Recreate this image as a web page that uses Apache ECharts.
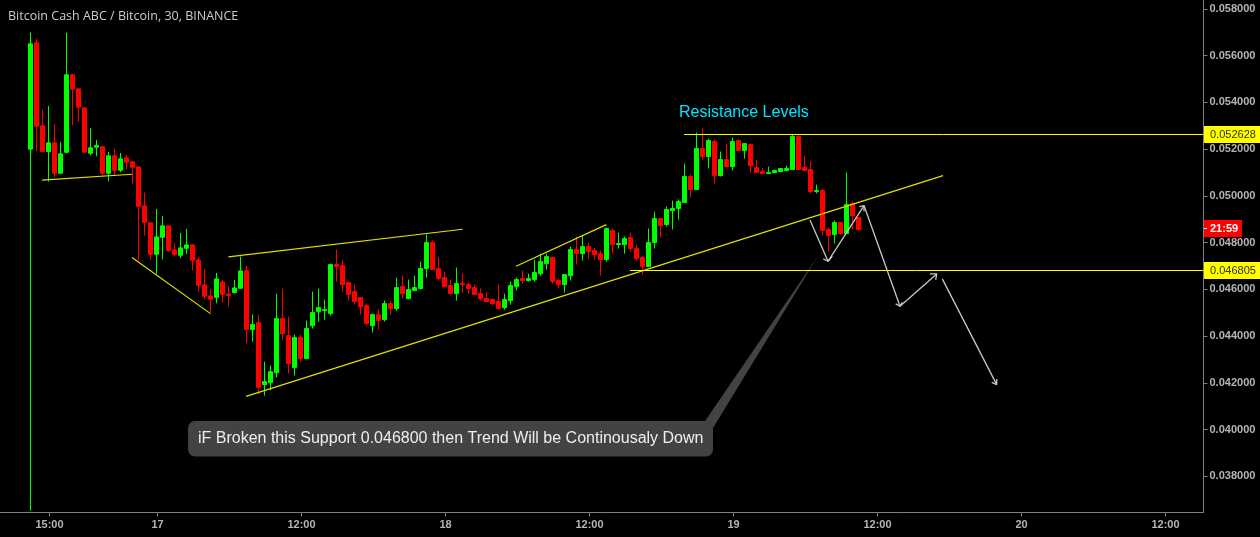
<!DOCTYPE html>
<html>
<head>
<meta charset="utf-8">
<style>html,body{margin:0;padding:0;background:#000}#c{width:1260px;height:537px}</style>
<script src="https://cdn.jsdelivr.net/npm/echarts@6/dist/echarts.min.js"></script>
</head>
<body>
<div id="c"></div>
<script>
// Prices are read in millionths of a BTC.
const opens = [52017,56554,53015,51919,52290,50994,51889,55189,54592,53782,51846,52102,52119,50994,51735,51121,51650,51480,51266,49603,48879,47540,48265,48751,47727,47497,47795,47940,47301,46235,45766,45706,46363,45851,45907,46090,46845,44329,44627,41984,42069,42495,44798,44073,42709,43988,43092,44499,45096,45139,45011,47100,47058,46333,45949,45693,45352,44499,44968,44755,45438,45224,46162,45651,45992,46077,46930,48039,46930,46546,46205,45864,46290,46248,46120,45864,45651,45608,45523,45267,45565,46162,46504,46418,46461,46717,47143,47399,46418,46248,46631,47740,47570,47868,47697,47570,47314,48550,47953,47953,48252,47783,47399,47015,48039,49062,48806,49403,49488,49744,50853,50298,52047,51706,52345,50895,51578,51279,52388,51961,52217,51237,51066,50981,51023,51066,51109,51151,52558,51237,51151,50213,50256,48593,48380,48891,48422,49701,49105];
const closes = [56511,52998,51919,52290,50994,51821,55189,54575,53808,51889,52077,52175,50994,51735,51121,51608,51463,51249,49586,48904,47540,48282,48751,47697,47540,47813,47940,47284,46218,45749,45621,46491,45834,45779,46107,46832,44329,44542,41869,42112,42538,44798,44158,42879,43988,43092,44372,45054,45267,45182,47100,47015,46248,45821,45523,45310,44585,44968,44713,45438,45224,46120,45864,46034,46120,46930,48039,46887,46504,46162,45864,46290,46248,46077,45821,45651,45523,45438,45224,45608,46205,46461,46418,46504,46759,47228,47442,46376,46248,46674,47740,47570,47868,47655,47527,47314,48636,47953,47996,48209,47783,47356,47015,48039,49062,48763,49446,49488,49787,50853,50298,52047,51706,52388,50895,51578,51279,52345,51961,52260,51322,51023,50981,51023,51109,51194,51194,52558,51151,51109,50213,50256,48550,48337,48891,48422,49659,49190,48593];
const lows = [36611,51932,51919,50640,50823,50994,51846,53040,53198,51889,51761,51718,50895,50652,50895,51036,51164,50567,47271,48337,47301,46704,47326,47642,47454,47369,47557,46857,45949,45621,45067,45450,45493,45322,45864,46077,43745,43817,41587,41515,41728,42282,43860,42453,42367,42964,43092,44372,44670,44755,44926,46376,45949,45565,45395,44968,44499,44201,44329,44670,44968,45139,45651,45651,45992,46034,46546,46887,46418,46162,45821,45565,45907,45864,45821,45565,45523,45352,45182,45182,45395,45992,46290,46376,46376,46631,46887,46290,46077,45907,46418,47100,47271,47356,47314,46631,47228,47570,47783,47570,47655,47271,46674,47015,47783,48252,48721,48593,49019,49744,49957,50298,51578,51194,50554,50853,51237,51109,51961,51620,51023,51023,50981,50981,51023,51066,51109,51151,51151,51109,50128,50128,48337,47655,47996,48380,48422,48593,48550];
const highs = [56993,56724,53697,53867,53100,52332,56980,55232,54592,53782,52929,52418,52162,51906,52034,51863,51778,51522,51266,50171,48879,49476,49177,48751,48026,48452,48623,47983,47429,46917,46064,46747,46448,46162,46448,47442,47045,44968,44968,42964,42794,45864,46077,44883,44116,44116,44713,45949,46077,45608,47143,47740,47314,46376,46248,45693,45438,45011,45182,45565,45523,46546,46631,46461,46631,47228,48380,48124,47399,46802,46461,46973,46717,46333,46248,46077,45907,45651,46248,45864,46376,46546,46845,46717,47314,47570,47570,47442,46504,46674,47868,48294,48337,48039,47825,47697,48678,48636,48465,48294,48465,47953,47484,48636,49360,49062,49574,49829,49872,51407,50938,52729,52900,52473,52430,51919,52260,52516,52430,52260,52260,51578,51237,51279,51151,51194,51322,52644,52601,51748,51492,50512,50341,48678,48977,48891,51023,49787,49105];

// One unit on the time axis is one 30-minute bar; bar 0 is the first candle.
const xTickBars = [3.167,21.167,45.167,69.167,93.167,117.167,141.167,165.167,189.167];
const xTickLabels = ['15:00','17','12:00','18','12:00','19','12:00','20','12:00'];
const yTicks = [0.038,0.04,0.042,0.044,0.046,0.048,0.05,0.052,0.054,0.056,0.058];

const trendLines = [
  [[1.917,0.050677],[16.917,0.050925]],
  [[16.917,0.047358],[30.0,0.04496]],
  [[32.967,0.047388],[72.033,0.04857]],
  [[35.917,0.041419],[152.083,0.050869]],
  [[80.917,0.046985],[95.967,0.048771]]
];
const levelLines = [
  [[108.917,0.052628],[195.5,0.052628]],
  [[99.917,0.046805],[195.5,0.046805]]
];
const arrowLines = [
  [[129.917,0.048972],[132.917,0.0472]],
  [[132.133,0.047302],[132.917,0.0472],[133.633,0.047414]],
  [[132.917,0.0472],[138.917,0.049585]],
  [[138.133,0.049542],[138.917,0.049585],[138.917,0.049341]],
  [[138.917,0.049585],[144.917,0.045273]],
  [[144.2,0.045375],[144.917,0.045273],[145.3,0.045444]],
  [[144.917,0.045273],[151.033,0.04666]],
  [[149.917,0.04666],[151.033,0.04666],[150.867,0.046403]],
  [[151.967,0.046446],[161.033,0.04192]],
  [[160.2,0.042018],[161.033,0.04192],[161.033,0.042164]]
];
const titleText = 'Bitcoin Cash ABC / Bitcoin, 30, BINANCE';
const resistanceText = 'Resistance Levels';
const calloutText = 'iF Broken this Support 0.046800 then Trend Will be Continousaly Down';
const levelLabels = ['0.052628','0.046805'];
const countdownText = '21:59';

const unit = 1e-6;
// Small correction between the pixel ruler used when reading and the axis.
const toPrice = v => v * unit * 1.00422 - 0.000241;
const candles = opens.map((o, i) => [i, toPrice(o), toPrice(closes[i]), toPrice(lows[i]), toPrice(highs[i])]);

const FONT = '"Liberation Sans", Arial, sans-serif';
const lineSeries = (pts, color, width, z) => ({
  type: 'line', data: pts, symbol: 'none', silent: true, z,
  lineStyle: { color, width }, clip: false
});

const chart = echarts.init(document.getElementById('c'), null, { renderer: 'canvas' });
chart.setOption({
  animation: false,
  backgroundColor: '#000000',
  grid: { left: 0, top: 0, width: 1203.5, height: 512.5, containLabel: false },
  xAxis: {
    type: 'value', min: -5.0833, max: 195.5, splitLine: { show: false },
    axisLine: { show: true, onZero: false, lineStyle: { color: '#808080', width: 1 } },
    axisTick: { show: true, length: 4, lineStyle: { color: '#808080' }, customValues: xTickBars },
    axisLabel: {
      color: '#b4b4b4', fontFamily: FONT, fontSize: 11, fontWeight: 'bold', margin: 7,
      customValues: xTickBars,
      formatter: v => xTickLabels[xTickBars.indexOf(v)]
    }
  },
  yAxis: {
    type: 'value', position: 'right', min: 0.036447, max: 0.058384, splitLine: { show: false },
    axisLine: { show: true, onZero: false, lineStyle: { color: '#808080', width: 1 } },
    axisTick: { show: true, length: 4, lineStyle: { color: '#808080' }, customValues: yTicks },
    axisLabel: {
      color: '#b4b4b4', fontFamily: FONT, fontSize: 11, fontWeight: 'bold', margin: 6,
      customValues: yTicks,
      formatter: v => v.toFixed(6)
    }
  },
  series: [
    {
      type: 'candlestick', data: candles, barWidth: 4, z: 3, silent: true,
      encode: { x: 0, y: [1, 2, 3, 4] },
      itemStyle: { color: '#00ff00', color0: '#ff0000', borderColor: '#00ff00', borderColor0: '#ff0000', borderWidth: 1 }
    },
    ...trendLines.map(p => lineSeries(p, '#e0e000', 1.2, 4)),
    ...levelLines.map(p => lineSeries(p, '#ffff00', 1, 4)),
    ...arrowLines.map(p => lineSeries(p, '#c8c8c8', 1.3, 5))
  ],
  graphic: [
    { type: 'text', z: 10, style: { text: titleText, x: 8, y: 16, fill: '#cccccc', font: '12.5px "Open Sans", sans-serif', textVerticalAlign: 'middle' } },
    { type: 'text', z: 10, style: { text: resistanceText, x: 679, y: 112.5, fill: '#00e5ff', font: '16px ' + FONT, textVerticalAlign: 'middle' } },
    { type: 'polygon', z: 1, shape: { points: [[705, 421], [713, 428], [818, 256]] }, style: { fill: '#434343' } },
    { type: 'rect', z: 1, shape: { x: 188, y: 421, width: 525, height: 35.5, r: 7 }, style: { fill: '#434343' } },
    { type: 'text', z: 10, style: { text: calloutText, x: 198, y: 438.7, fill: '#eeeeee', font: '16px ' + FONT, textVerticalAlign: 'middle' } },
    { type: 'rect', z: 10, shape: { x: 1204, y: 126, width: 56, height: 17 }, style: { fill: '#ffff00' } },
    { type: 'text', z: 11, style: { text: levelLabels[0], x: 1210, y: 134.6, fill: '#333300', font: '11px ' + FONT, textVerticalAlign: 'middle' } },
    { type: 'rect', z: 10, shape: { x: 1204, y: 262, width: 56, height: 17 }, style: { fill: '#ffff00' } },
    { type: 'text', z: 11, style: { text: levelLabels[1], x: 1210, y: 270.6, fill: '#333300', font: '11px ' + FONT, textVerticalAlign: 'middle' } },
    { type: 'rect', z: 10, shape: { x: 1204, y: 220, width: 38, height: 17 }, style: { fill: '#ff0000' } },
    { type: 'rect', z: 11, shape: { x: 1204, y: 228, width: 3, height: 1 }, style: { fill: '#ffffff' } },
    { type: 'text', z: 11, style: { text: countdownText, x: 1210, y: 228.6, fill: '#ffffff', font: 'bold 11px ' + FONT, textVerticalAlign: 'middle' } }
  ]
});
</script>
</body>
</html>
